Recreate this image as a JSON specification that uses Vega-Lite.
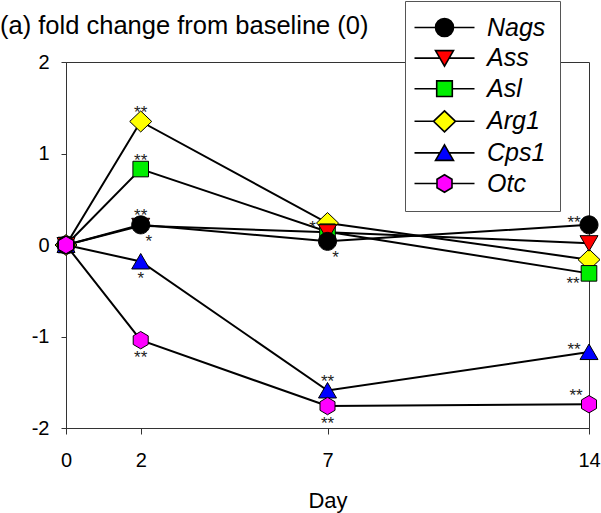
{
  "$schema": "https://vega.github.io/schema/vega-lite/v6.json",
  "width": 523,
  "height": 366,
  "autosize": {"type": "none"},
  "padding": {"left": 66, "top": 62, "right": 12, "bottom": 85},
  "background": "white",
  "title": {
    "text": "(a) fold change from baseline (0)",
    "anchor": "start",
    "frame": "group",
    "dx": -66,
    "dy": 43,
    "font": "Liberation Sans",
    "fontSize": 25.5,
    "fontWeight": "normal",
    "color": "black"
  },
  "config": {
    "view": {"stroke": "#333333", "strokeWidth": 1},
    "axis": {
      "labelFont": "Liberation Sans",
      "titleFont": "Liberation Sans",
      "labelColor": "black",
      "titleColor": "black",
      "domainColor": "#333333",
      "tickColor": "#333333",
      "grid": false
    }
  },
  "datasets": {
    "expr": [
      {"gene": "Nags", "day": 0, "value": 0},
      {"gene": "Nags", "day": 2, "value": 0.22},
      {"gene": "Nags", "day": 7, "value": 0.04},
      {"gene": "Nags", "day": 14, "value": 0.22},
      {"gene": "Ass", "day": 0, "value": 0},
      {"gene": "Ass", "day": 2, "value": 0.21},
      {"gene": "Ass", "day": 7, "value": 0.14},
      {"gene": "Ass", "day": 14, "value": 0.02},
      {"gene": "Asl", "day": 0, "value": 0},
      {"gene": "Asl", "day": 2, "value": 0.83},
      {"gene": "Asl", "day": 7, "value": 0.145},
      {"gene": "Asl", "day": 14, "value": -0.31},
      {"gene": "Arg1", "day": 0, "value": 0},
      {"gene": "Arg1", "day": 2, "value": 1.35},
      {"gene": "Arg1", "day": 7, "value": 0.24},
      {"gene": "Arg1", "day": 14, "value": -0.16},
      {"gene": "Cps1", "day": 0, "value": 0},
      {"gene": "Cps1", "day": 2, "value": -0.18},
      {"gene": "Cps1", "day": 7, "value": -1.59},
      {"gene": "Cps1", "day": 14, "value": -1.17},
      {"gene": "Otc", "day": 0, "value": 0},
      {"gene": "Otc", "day": 2, "value": -1.04},
      {"gene": "Otc", "day": 7, "value": -1.76},
      {"gene": "Otc", "day": 14, "value": -1.74}
    ],
    "stars": [
      {"gene": "Arg1", "day": 2, "value": 1.35, "label": "**", "pos": "above"},
      {"gene": "Asl", "day": 2, "value": 0.83, "label": "**", "pos": "above"},
      {"gene": "Nags", "day": 2, "value": 0.22, "label": "**", "pos": "above"},
      {"gene": "Nags", "day": 2, "value": 0.22, "label": "*", "pos": "belowright"},
      {"gene": "Cps1", "day": 2, "value": -0.18, "label": "*", "pos": "below"},
      {"gene": "Otc", "day": 2, "value": -1.04, "label": "**", "pos": "below"},
      {"gene": "Arg1", "day": 7, "value": 0.24, "label": "*", "pos": "left"},
      {"gene": "Nags", "day": 7, "value": 0.04, "label": "*", "pos": "belowright"},
      {"gene": "Cps1", "day": 7, "value": -1.59, "label": "**", "pos": "above"},
      {"gene": "Otc", "day": 7, "value": -1.76, "label": "**", "pos": "below"},
      {"gene": "Nags", "day": 14, "value": 0.22, "label": "**", "pos": "upleft"},
      {"gene": "Asl", "day": 14, "value": -0.31, "label": "**", "pos": "downleft"},
      {"gene": "Cps1", "day": 14, "value": -1.17, "label": "**", "pos": "upleft"},
      {"gene": "Otc", "day": 14, "value": -1.74, "label": "**", "pos": "highleft"}
    ]
  },
  "encoding": {
    "x": {
      "field": "day",
      "type": "quantitative",
      "scale": {"domain": [0, 14], "nice": false, "zero": false},
      "axis": {
        "values": [0, 2, 7, 14],
        "title": "Day",
        "titleFontSize": 22,
        "titleFontWeight": "normal",
        "titlePadding": 20,
        "labelFontSize": 20,
        "tickSize": 6,
        "labelPadding": 16,
        "labelFlush": false
      }
    },
    "y": {
      "field": "value",
      "type": "quantitative",
      "scale": {"domain": [-2, 2], "nice": false},
      "axis": {
        "values": [-2, -1, 0, 1, 2],
        "labelExpr": "'' + datum.value",
        "title": null,
        "labelFontSize": 20,
        "tickSize": 5,
        "labelPadding": 12
      }
    }
  },
  "layer": [
    {
      "data": {"name": "expr"},
      "mark": {"type": "line", "color": "black", "strokeWidth": 2},
      "encoding": {"detail": {"field": "gene", "type": "nominal"}}
    },
    {
      "data": {"name": "expr"},
      "mark": {"type": "point", "filled": true, "size": 400, "opacity": 1, "stroke": "black", "strokeWidth": 1},
      "encoding": {
        "order": {"field": "gene", "sort": "ascending"},
        "color": {
          "field": "gene",
          "type": "nominal",
          "scale": {
            "domain": ["Nags", "Ass", "Asl", "Arg1", "Cps1", "Otc"],
            "range": ["#000000", "#FF0000", "#00EE00", "#FFFF00", "#0000FF", "#FF00FF"]
          },
          "legend": {
            "orient": "none",
            "legendX": 339,
            "legendY": -61,
            "title": null,
            "padding": 14,
            "fillColor": "white",
            "strokeColor": "#555555",
            "cornerRadius": 0,
            "symbolSize": 400,
            "symbolOffset": 13,
            "labelOffset": 30,
            "rowPadding": 4.6,
            "labelFont": "Liberation Sans",
            "labelFontSize": 25,
            "labelFontStyle": "italic",
            "labelColor": "black",
            "symbolStrokeColor": "black",
            "symbolStrokeWidth": 1.6,
            "symbolType": {"expr": "datum.value === 'Nags' ? 'M-3,0H-0.9M0.9,0H3M-0.9,0A0.9,0.9,0,1,1,0.9,0A0.9,0.9,0,1,1,-0.9,0Z' : datum.value === 'Ass' ? 'M-3,0H-0.46M0.46,0H3M-0.9,-0.75L0.9,-0.75L0,0.8Z' : datum.value === 'Asl' ? 'M-3,0H-0.78M0.78,0H3M-0.78,-0.78H0.78V0.78H-0.78Z' : datum.value === 'Arg1' ? 'M-3,0H-1.1M1.1,0H3M0,-1.05L1.1,0L0,1.05L-1.1,0Z' : datum.value === 'Cps1' ? 'M-3,0H-0.46M0.46,0H3M0,-0.8L0.9,0.75L-0.9,0.75Z' : 'M-3,0H-0.75M0.75,0H3M0,-0.87L0.75,-0.43L0.75,0.43L0,0.87L-0.75,0.43L-0.75,-0.43Z'"}
          }
        },
        "shape": {
          "field": "gene",
          "type": "nominal",
          "scale": {
            "domain": ["Arg1", "Asl", "Ass", "Cps1", "Nags", "Otc"],
            "range": [
              "M0,-1.05L1.1,0L0,1.05L-1.1,0Z",
              "M-0.78,-0.78H0.78V0.78H-0.78Z",
              "M-0.9,-0.75L0.9,-0.75L0,0.8Z",
              "M0,-0.8L0.9,0.75L-0.9,0.75Z",
              "M-0.9,0A0.9,0.9,0,1,1,0.9,0A0.9,0.9,0,1,1,-0.9,0Z",
              "M0,-0.87L0.75,-0.43L0.75,0.43L0,0.87L-0.75,0.43L-0.75,-0.43Z"
            ]
          },
          "legend": null
        }
      }
    },
    {
      "data": {"name": "stars"},
      "transform": [{"filter": "datum.pos === 'above'"}],
      "mark": {"type": "text", "font": "Liberation Sans", "fontSize": 17, "color": "#222222", "baseline": "alphabetic", "align": "center", "dx": 0, "dy": -3.5},
      "encoding": {"text": {"field": "label"}}
    },
    {
      "data": {"name": "stars"},
      "transform": [{"filter": "datum.pos === 'below'"}],
      "mark": {"type": "text", "font": "Liberation Sans", "fontSize": 17, "color": "#222222", "baseline": "alphabetic", "align": "center", "dx": 0, "dy": 23},
      "encoding": {"text": {"field": "label"}}
    },
    {
      "data": {"name": "stars"},
      "transform": [{"filter": "datum.pos === 'belowright'"}],
      "mark": {"type": "text", "font": "Liberation Sans", "fontSize": 17, "color": "#222222", "baseline": "alphabetic", "align": "center", "dx": 8, "dy": 22},
      "encoding": {"text": {"field": "label"}}
    },
    {
      "data": {"name": "stars"},
      "transform": [{"filter": "datum.pos === 'left'"}],
      "mark": {"type": "text", "font": "Liberation Sans", "fontSize": 17, "color": "#222222", "baseline": "alphabetic", "align": "center", "dx": -15, "dy": 10},
      "encoding": {"text": {"field": "label"}}
    },
    {
      "data": {"name": "stars"},
      "transform": [{"filter": "datum.pos === 'upleft'"}],
      "mark": {"type": "text", "font": "Liberation Sans", "fontSize": 17, "color": "#222222", "baseline": "alphabetic", "align": "center", "dx": -15, "dy": 3},
      "encoding": {"text": {"field": "label"}}
    },
    {
      "data": {"name": "stars"},
      "transform": [{"filter": "datum.pos === 'highleft'"}],
      "mark": {"type": "text", "font": "Liberation Sans", "fontSize": 17, "color": "#222222", "baseline": "alphabetic", "align": "center", "dx": -13, "dy": -3},
      "encoding": {"text": {"field": "label"}}
    },
    {
      "data": {"name": "stars"},
      "transform": [{"filter": "datum.pos === 'downleft'"}],
      "mark": {"type": "text", "font": "Liberation Sans", "fontSize": 17, "color": "#222222", "baseline": "alphabetic", "align": "center", "dx": -16, "dy": 16},
      "encoding": {"text": {"field": "label"}}
    }
  ]
}
